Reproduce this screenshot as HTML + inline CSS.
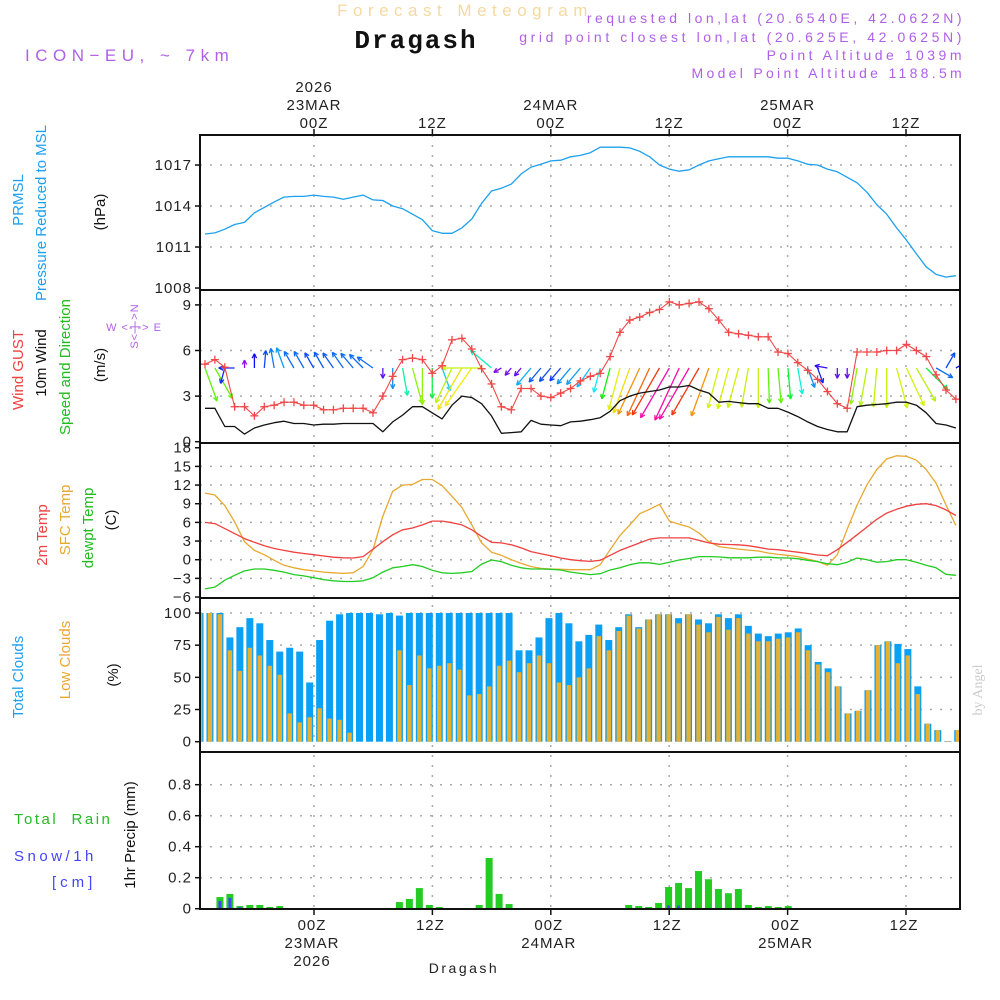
<!DOCTYPE html>
<html><head><meta charset="utf-8"><style>
html,body{margin:0;padding:0;background:#fff;}
svg{display:block;font-family:"Liberation Sans",sans-serif;}
.tk{font-size:15px;fill:#222;letter-spacing:1px;}
</style></head><body>
<svg id="chart" width="1000" height="1000" viewBox="0 0 1000 1000">
<rect x="0" y="0" width="1000" height="1000" fill="#fff"/>
<g id="grid"></g>
<g id="marks"></g>
<g id="frames"></g>
<g id="labels">
<text x="465" y="16" text-anchor="middle" font-size="17" fill="#f5d9a0" letter-spacing="5.5">Forecast Meteogram</text>
<text x="416" y="48" text-anchor="middle" font-size="26" font-weight="bold" fill="#111" letter-spacing="2" font-family="Liberation Mono, monospace">Dragash</text>
<text x="965" y="23" text-anchor="end" font-size="14" fill="#b060e8" letter-spacing="3.5">requested lon,lat (20.6540E, 42.0622N)</text>
<text x="965" y="42" text-anchor="end" font-size="14" fill="#b060e8" letter-spacing="3.6">grid point closest lon,lat (20.625E, 42.0625N)</text>
<text x="965" y="60" text-anchor="end" font-size="14" fill="#b060e8" letter-spacing="3.5">Point Altitude 1039m</text>
<text x="965" y="78" text-anchor="end" font-size="14" fill="#b060e8" letter-spacing="3.3">Model Point Altitude 1188.5m</text>
<text x="25" y="61" font-size="17" fill="#b060e8" letter-spacing="5.5" style="white-space:pre">ICON−EU, ~ 7km</text>

<text transform="translate(23,200) rotate(-90)" text-anchor="middle" font-size="15" fill="#1ea0f0">PRMSL</text>
<text transform="translate(46,213) rotate(-90)" text-anchor="middle" font-size="15" fill="#1ea0f0">Pressure Reduced to MSL</text>
<text transform="translate(105,212) rotate(-90)" text-anchor="middle" font-size="15" fill="#111">(hPa)</text>

<text transform="translate(23,370) rotate(-90)" text-anchor="middle" font-size="15" fill="#f04040">Wind GUST</text>
<text transform="translate(46,363) rotate(-90)" text-anchor="middle" font-size="15" fill="#111">10m Wind</text>
<text transform="translate(70,367) rotate(-90)" text-anchor="middle" font-size="15" fill="#22bb22">Speed and Direction</text>
<text transform="translate(105,365) rotate(-90)" text-anchor="middle" font-size="15" fill="#111">(m/s)</text>
<text x="134" y="331" text-anchor="middle" font-size="11" fill="#b060e8" letter-spacing="1">W &lt;-|-&gt; E</text>
<text transform="translate(138,326) rotate(-90)" text-anchor="middle" font-size="11" fill="#b060e8" letter-spacing="1">S&lt;-|-&gt;N</text>

<text transform="translate(47,535) rotate(-90)" text-anchor="middle" font-size="15" fill="#f04040">2m Temp</text>
<text transform="translate(70,520) rotate(-90)" text-anchor="middle" font-size="15" fill="#e8a830">SFC Temp</text>
<text transform="translate(93,528) rotate(-90)" text-anchor="middle" font-size="15" fill="#22bb22">dewpt Temp</text>
<text transform="translate(116,520) rotate(-90)" text-anchor="middle" font-size="15" fill="#111">(C)</text>

<text transform="translate(23,677) rotate(-90)" text-anchor="middle" font-size="15" fill="#1ea0f0">Total Clouds</text>
<text transform="translate(70,660) rotate(-90)" text-anchor="middle" font-size="15" fill="#e8a830">Low Clouds</text>
<text transform="translate(118,675) rotate(-90)" text-anchor="middle" font-size="15" fill="#111">(%)</text>

<text x="14" y="824" font-size="15" fill="#22bb22" letter-spacing="2.5" style="white-space:pre">Total  Rain</text>
<text x="14" y="861" font-size="15" fill="#4444ff" letter-spacing="3.5">Snow/1h</text>
<text x="52" y="887" font-size="15" fill="#4444ff" letter-spacing="4">[cm]</text>
<text transform="translate(135,835) rotate(-90)" text-anchor="middle" font-size="15" fill="#111">1hr Precip (mm)</text>

<text transform="translate(982,690) rotate(-90)" text-anchor="middle" font-size="14" fill="#ccc" font-family="Liberation Serif, serif">by Angel</text>
<text x="464" y="973" text-anchor="middle" font-size="14" fill="#222" letter-spacing="2.5">Dragash</text>
</g>
</svg>
<script>
const pressure=[1011.95,1012.03,1012.3,1012.65,1012.8,1013.5,1013.9,1014.3,1014.65,1014.7,1014.7,1014.8,1014.7,1014.65,1014.5,1014.65,1014.8,1014.45,1014.4,1014.0,1013.8,1013.4,1013.0,1012.2,1012.0,1012.0,1012.4,1013.05,1014.2,1015.1,1015.3,1015.6,1016.35,1016.85,1017.05,1017.3,1017.35,1017.6,1017.7,1017.9,1018.3,1018.3,1018.3,1018.25,1018.0,1017.6,1017.0,1016.7,1016.55,1016.65,1017.0,1017.3,1017.45,1017.6,1017.6,1017.6,1017.6,1017.6,1017.5,1017.5,1017.3,1017.05,1017.0,1016.7,1016.5,1016.1,1015.7,1015.0,1014.1,1013.4,1012.4,1011.5,1010.5,1009.55,1009.0,1008.8,1008.9];
const gust=[5.1,5.4,4.9,2.3,2.3,1.7,2.3,2.4,2.6,2.6,2.4,2.4,2.1,2.1,2.2,2.2,2.2,1.9,3.0,4.3,5.4,5.5,5.4,4.5,5.0,6.7,6.8,6.1,4.8,3.8,2.3,2.1,3.5,3.5,3.0,2.9,3.2,3.5,4.0,4.3,4.5,5.6,7.2,8.0,8.2,8.5,8.7,9.2,9.0,9.1,9.2,8.75,8.0,7.2,7.1,7.0,6.9,6.9,5.9,5.8,5.2,4.7,4.1,3.3,2.5,2.2,5.9,5.9,5.9,6.0,6.0,6.4,6.0,5.6,4.4,3.4,2.8];
const windSpeed=[2.2,2.2,1.0,1.0,0.5,0.9,1.1,1.25,1.35,1.2,1.2,1.1,1.15,1.15,1.2,1.2,1.2,1.2,0.65,1.3,1.75,2.3,2.3,1.9,1.5,2.4,3.0,2.9,2.5,1.7,0.55,0.6,0.65,1.4,1.15,1.1,1.05,1.3,1.35,1.45,1.58,2.0,2.7,3.0,3.2,3.3,3.4,3.6,3.6,3.7,3.4,3.2,2.6,2.65,2.57,2.5,2.5,2.2,2.2,1.95,1.65,1.3,1.0,0.8,0.65,0.65,2.3,2.4,2.45,2.5,2.6,2.6,2.4,1.9,1.2,1.1,0.9];
const windDir=[160,150,195,270,0,0,5,350,340,330,330,330,330,325,325,320,315,305,180,180,170,165,180,180,160,205,210,215,270,310,240,220,220,220,220,220,220,220,220,215,195,195,195,200,205,205,210,210,205,210,210,200,195,195,195,190,180,178,175,175,170,160,160,280,180,180,190,190,185,180,165,155,150,135,120,30,60];
const t2m=[6.0,5.8,5.0,4.2,3.4,2.8,2.25,1.8,1.5,1.2,1.0,0.8,0.6,0.4,0.3,0.27,0.5,1.7,2.9,4.0,4.8,5.1,5.6,6.2,6.2,5.95,5.6,4.8,3.75,2.8,2.7,2.4,1.9,1.3,0.96,0.64,0.27,0,-0.16,-0.27,-0.1,0.7,1.5,2.1,2.7,3.3,3.5,3.5,3.5,3.5,3.1,2.7,2.5,2.45,2.4,2.25,2.0,1.7,1.6,1.4,1.2,1.0,0.75,0.65,1.6,2.8,4.0,5.25,6.5,7.5,8.1,8.6,8.9,9.0,8.7,8.0,7.1];
const sfcTemp=[10.7,10.4,8.7,6.1,2.9,1.5,0.8,-0.1,-0.9,-1.3,-1.6,-1.8,-2.0,-2.1,-2.2,-2.1,-1.1,1.6,7.0,11.0,12.0,12.1,12.9,12.9,11.9,10.2,8.4,5.6,2.7,1.2,0.7,0,-0.6,-1.1,-1.4,-1.5,-1.55,-1.6,-1.6,-1.6,-0.8,1.6,3.9,5.6,7.4,8.1,8.9,6.2,5.7,5.25,4.3,2.9,2.1,1.9,1.7,1.55,1.4,1.07,0.86,0.7,0.5,0.1,-0.27,-0.9,0.8,4.9,8.8,12.05,14.5,16.2,16.7,16.6,16.0,14.5,12.3,8.8,5.5];
const dewpt=[-4.7,-4.4,-3.3,-2.5,-1.8,-1.5,-1.5,-1.7,-2.0,-2.4,-2.6,-2.9,-3.2,-3.4,-3.5,-3.5,-3.4,-2.9,-2.0,-1.3,-1.1,-0.8,-1.1,-1.7,-2.1,-2.2,-2.1,-1.9,-0.7,-0.05,-0.3,-0.9,-1.3,-1.5,-1.5,-1.55,-1.66,-2.0,-2.2,-2.4,-2.25,-1.65,-1.3,-0.8,-0.5,-0.5,-0.75,-0.4,-0.05,0.2,0.5,0.5,0.45,0.3,0.3,0.3,0.4,0.4,0.3,0.27,0.16,-0.1,-0.3,-0.65,-0.8,-0.4,0.27,0,-0.4,-0.3,0,0,-0.4,-0.9,-1.3,-2.35,-2.5];
const totalClouds=[100,100,100,81,89,96,92,79,70,73,70,46,79,94,99,100,100,100,99,100,98,100,100,100,100,100,100,100,100,100,100,100,71,71,81,96,100,92,78,83,91,79,89,99,89,95,99,99,96,99,95,92,99,96,99,90,84,82,84,85,88,75,62,57,43,22,24,40,75,78,76,72,43,14,9,0.5,9];
const lowClouds=[100,100,99,71,55,73,67,59,52,22,15,19,26,18,17,7,0,0,0,0,71,44,67,57,59,61,56,36,37,43,59,63,54,61,67,61,46,44,50,57,82,71,86,98,88,95,99,99,92,99,91,85,97,87,96,84,78,78,80,81,85,71,60,54,43,22,24,40,75,78,61,67,37,14,9,0.5,9];
const rain=[0,0,0.075,0.095,0.017,0.024,0.024,0.011,0.017,0,0,0,0,0,0,0,0,0,0,0,0.043,0.063,0.133,0.024,0.011,0,0,0,0.024,0.327,0.095,0.03,0,0,0,0,0,0,0,0,0,0,0,0.024,0.017,0.011,0.037,0.14,0.166,0.133,0.243,0.19,0.127,0.10,0.127,0.024,0.011,0.017,0.011,0.017,0,0,0,0,0,0,0,0,0,0,0,0,0,0,0,0,0];
const snow=[0,0,0.05,0.07,0.01,0,0,0,0,0,0,0,0,0,0,0,0,0,0,0,0,0,0,0,0,0,0,0,0,0,0,0,0,0,0,0,0,0,0,0,0,0,0,0,0,0,0,0.02,0.02,0,0,0,0,0,0,0,0,0,0,0,0,0,0,0,0,0,0,0,0,0,0,0,0,0,0,0,0];
const pressTicks=[1017,1014,1011,1008];
const windTicks=[9,6,3,0];
const tempTicks=[18,15,12,9,6,3,0,-3,-6];
const cloudTicks=[100,75,50,25,0];
const precipTicks=[0.8,0.6,0.4,0.2,0];
const timeTickHours=[0,12,24,36,48,60];
const timeTickZ=["00Z","12Z","00Z","12Z","00Z","12Z"];
const timeTickDate=["23MAR","","24MAR","","25MAR",""];

const NS="http://www.w3.org/2000/svg";
const X0=200,X1=960;
const xTime=h=>314+h*9.867;
const xLine=k=>205+k*9.88;
const xBar=i=>200+i*9.97;
const yP=p=>165+(1017-p)*13.67;
const yW=v=>441.7-v*15.2;
const yT=t=>559.7-t*6.22;
const yC=c=>741.7-c*1.287;
const yR=r=>908.7-r*155;
const panels=[[135,290],[290,443],[443,598],[598,752],[752,909]];
function mk(tag,attrs,parent){const e=document.createElementNS(NS,tag);for(const a in attrs)e.setAttribute(a,attrs[a]);parent.appendChild(e);return e;}
const G=document.getElementById('grid'),M=document.getElementById('marks'),F=document.getElementById('frames');

function yAxis(ticks,sc,fmt,pi,gridSkip){
  ticks.forEach(v=>{
    const y=sc(v);
    if(!gridSkip(v)){const l=mk('line',{x1:X0,x2:X1,y1:y,y2:y,stroke:'#aaa','stroke-width':1.5,'stroke-dasharray':'2,8'},G);
      
      }
    const t=mk('text',{x:192,y:y+5,'text-anchor':'end',class:'tk'},G);t.textContent=fmt(v);
    
    
    mk('line',{x1:X0-5,x2:X0,y1:y,y2:y,stroke:'#111','stroke-width':1.5},G);
  });
}
yAxis(pressTicks,yP,v=>v,0,v=>v===1008);
yAxis(windTicks,yW,v=>v,1,v=>v===0);
yAxis(tempTicks,yT,v=>(v<0?'−'+(-v):v),2,v=>v===18||v===-6);
yAxis(cloudTicks,yC,v=>v,3,v=>v===0);
yAxis(precipTicks,yR,v=>(v===0?'0':v.toFixed(1)),4,v=>v===0);

timeTickHours.forEach((h,j)=>{
  const x=xTime(h);
  const vl=mk('line',{x1:x,x2:x,y1:135,y2:909,stroke:'#aaa','stroke-width':1.5,'stroke-dasharray':'2,8'},G);
  
  
  mk('line',{x1:x,x2:x,y1:129,y2:135,stroke:'#111','stroke-width':1.5},G);
  mk('line',{x1:x,x2:x,y1:909,y2:915,stroke:'#111','stroke-width':1.5},G);
  const t1=mk('text',{x:x,y:128,'text-anchor':'middle',class:'tk'},G);t1.textContent=timeTickZ[j];
  
  
  const t2=mk('text',{x:x-2,y:930,'text-anchor':'middle',class:'tk'},G);t2.textContent=timeTickZ[j];
  
  
  if(timeTickDate[j]){
    const d1=mk('text',{x:x,y:110,'text-anchor':'middle',class:'tk'},G);d1.textContent=timeTickDate[j];
    
    
    const d2=mk('text',{x:x-2,y:948,'text-anchor':'middle',class:'tk'},G);d2.textContent=timeTickDate[j];
    
    
  }
  if(j===0){
    const y1=mk('text',{x:x,y:92,'text-anchor':'middle',class:'tk'},G);y1.textContent='2026';
    
    
    const y2=mk('text',{x:x-2,y:966,'text-anchor':'middle',class:'tk'},G);y2.textContent='2026';
    
    
  }
});

function polyline(arr,xs,ys,color,w,name){
  const pts=arr.map((v,k)=>xs(k).toFixed(1)+','+ys(v).toFixed(1)).join(' ');
  const p=mk('polyline',{points:pts,fill:'none',stroke:color,'stroke-width':w,'stroke-linejoin':'round'},M);
  
  
  return p;
}
const defs=mk('defs',{},M);
const cp=mk('clipPath',{id:'plotclip'},defs);mk('rect',{x:X0,y:135,width:X1-X0,height:774},cp);

polyline(pressure,xLine,yP,'#1ea0f0',1.3,'pressure-line');

const cloudsG=mk('g',{'clip-path':'url(#plotclip)'},M);
totalClouds.forEach((c,i)=>{
  const r=mk('rect',{x:xBar(i)-3.5,y:yC(c),width:7,height:yC(0)-yC(c),fill:'#0aa0f5'},cloudsG);
  
  
});
lowClouds.forEach((c,i)=>{
  const r=mk('rect',{x:xBar(i)-2.2,y:yC(c),width:4.4,height:yC(0)-yC(c),fill:'#e8b030'},cloudsG);
  
  
});
rain.forEach((r,i)=>{
  if(r<=0)return;
  const b=mk('rect',{x:xBar(i)-3.5,y:yR(r),width:7,height:yR(0)-yR(r),fill:'#22cc22'},cloudsG);
  
  
});
snow.forEach((s,i)=>{
  if(s<=0)return;
  const b=mk('rect',{x:xBar(i)-1.5,y:yR(s),width:3,height:yR(0)-yR(s),fill:'#4444ff'},cloudsG);
  
  
});

polyline(sfcTemp,xLine,yT,'#e8a830',1.3,'sfc-temp-line');
polyline(t2m,xLine,yT,'#f04040',1.3,'t2m-line');
polyline(dewpt,xLine,yT,'#22cc22',1.3,'dewpt-line');

const hueStops=[[0.5,275],[1.2,215],[1.6,180],[2.0,120],[2.4,75],[3.0,55],[3.25,30],[3.45,5],[3.6,-40]];
function hueFor(s){
  if(s<=hueStops[0][0])return hueStops[0][1];
  for(let j=1;j<hueStops.length;j++){
    if(s<=hueStops[j][0]){const a=hueStops[j-1],b=hueStops[j];return a[1]+(b[1]-a[1])*(s-a[0])/(b[0]-a[0]);}
  }
  return hueStops[hueStops.length-1][1];
}
const windG=mk('g',{'clip-path':'url(#plotclip)'},M);
windSpeed.forEach((s,k)=>{
  const hue=((hueFor(s))%360+360)%360;
  const col='hsl('+hue.toFixed(0)+',90%,50%)';
  const a=windDir[k]*Math.PI/180,L=s*15.2*1.05;
  const x0=xLine(k),y0=368,x1=x0+Math.sin(a)*L,y1=y0-Math.cos(a)*L;
  const g=mk('g',{stroke:col,'stroke-width':1.3,fill:'none'},windG);
  
  
  mk('line',{x1:x0,y1:y0,x2:x1,y2:y1},g);
  const h=5,ang=0.45;
  [a+Math.PI-ang,a+Math.PI+ang].forEach(b=>mk('line',{x1:x1,y1:y1,x2:x1+Math.sin(b)*h,y2:y1-Math.cos(b)*h},g));
});
polyline(windSpeed,xLine,yW,'#111',1.3,'wind-speed-line');
polyline(gust,xLine,yW,'#f04848',1.1,'gust-line');
gust.forEach((v,k)=>{
  const x=xLine(k),y=yW(v);
  const g=mk('g',{stroke:'#f04848','stroke-width':1.3},M);
  
  
  mk('line',{x1:x-4,x2:x+4,y1:y,y2:y},g);mk('line',{x1:x,x2:x,y1:y-4,y2:y+4},g);
});

panels.forEach((p,j)=>{
  const r=mk('rect',{x:X0,y:p[0],width:X1-X0,height:p[1]-p[0],fill:'none',stroke:'#111','stroke-width':2},F);
  
  
});
</script>
</body></html>
